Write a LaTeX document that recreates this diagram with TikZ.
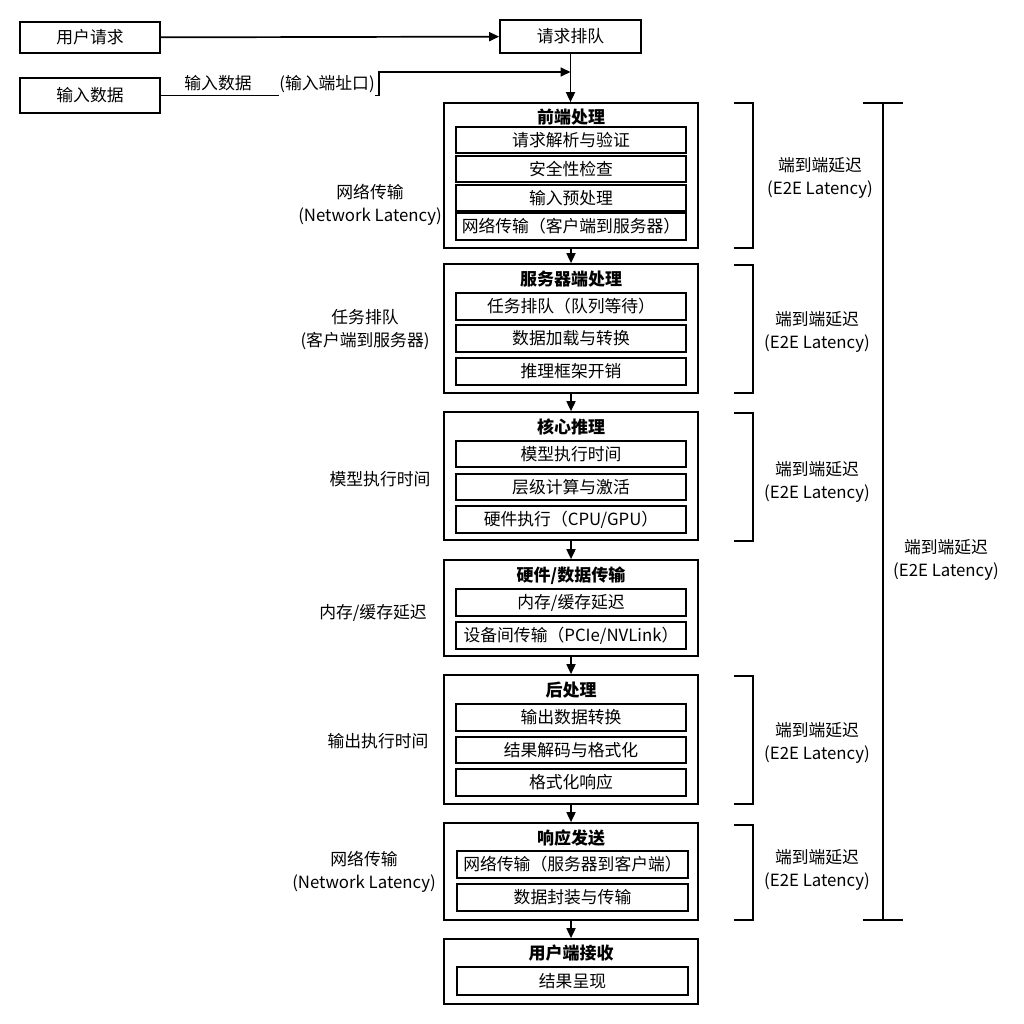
\documentclass[tikz,border=0pt]{standalone}
\usepackage{fontspec}
\setmainfont{Noto Sans CJK SC}
\usetikzlibrary{arrows.meta}
\begin{document}
\begin{tikzpicture}[x=1pt,y=-1pt,
  font=\fontsize{16.8}{23}\selectfont,
  lw/.style={line width=1.7pt},
  topbox/.style={draw,lw,inner sep=0pt,minimum width=140pt},
  outer/.style={draw,lw,inner sep=0pt,minimum width=254pt},
  sub/.style={draw,lw,inner sep=0pt,minimum width=230pt,minimum height=27pt},
  ttl/.style={font=\fontsize{17}{20}\selectfont\bfseries,inner sep=0pt},
  lbl/.style={align=center,inner sep=0pt},
  conn/.style={lw,-{Triangle[length=10pt,width=9pt]}},
  brk/.style={lw}]
\useasboundingbox (0,0) rectangle (1024,1024);

% top
\node[topbox,minimum height=31pt] (u) at (90,37.5) {用户请求};
\node[topbox,minimum width=141pt,minimum height=33pt] (q) at (570.5,36.5) {请求排队};
\node[topbox,minimum height=35pt] (in) at (90,95.5) {输入数据};
\node[lbl] (inl) at (218,83) {输入数据};
\node[lbl] (port) at (327,84) {(输入端址口)};
\coordinate (jn) at (570.5,72);
\draw[conn] (u) -- (q);
\draw[lw] (in.east) -- (in.east -| port.west);
\draw[conn] (in.east -| port.east) -- ++(4,0) |- (jn);

% box 1
\node[outer,minimum height=145pt] (b1) at (571,175.5) {};
\node[ttl] (t1) at (571,117) {前端处理};
\node[sub,minimum height=26pt] (s11) at (571,140) {请求解析与验证};
\node[sub,minimum height=26pt] (s12) at (571,169) {安全性检查};
\node[sub,minimum height=26pt] (s13) at (571,198) {输入预处理};
\node[sub] (s14) at (571,226.5) {网络传输（客户端到服务器）};

% box 2
\node[outer,minimum height=129pt] (b2) at (571,328.5) {};
\node[ttl] (t2) at (571,279) {服务器端处理};
\node[sub] (s21) at (571,306.5) {任务排队（队列等待）};
\node[sub] (s22) at (571,338.5) {数据加载与转换};
\node[sub] (s23) at (571,371.5) {推理框架开销};

% box 3
\node[outer,minimum height=128pt] (b3) at (571,476) {};
\node[ttl] (t3) at (571,427) {核心推理};
\node[sub,minimum height=26pt] (s31) at (571,454) {模型执行时间};
\node[sub,minimum height=26pt] (s32) at (571,487) {层级计算与激活};
\node[sub] (s33) at (571,519.5) {硬件执行（CPU/GPU）};

% box 4
\node[outer,minimum height=96pt] (b4) at (571,608) {};
\node[ttl] (t4) at (571,576) {硬件/数据传输};
\node[sub] (s41) at (571,602.5) {内存/缓存延迟};
\node[sub] (s42) at (571,635.5) {设备间传输（PCIe/NVLink）};

% box 5
\node[outer,minimum height=129pt] (b5) at (571,739.5) {};
\node[ttl] (t5) at (571,690) {后处理};
\node[sub] (s51) at (571,717.5) {输出数据转换};
\node[sub,minimum height=26pt] (s52) at (571,750) {结果解码与格式化};
\node[sub] (s53) at (571,782.5) {格式化响应};

% box 6
\node[outer,minimum height=97pt] (b6) at (571,871.5) {};
\node[ttl] (t6) at (571,838) {响应发送};
\node[sub,minimum width=231pt] (s61) at (572.5,864.5) {网络传输（服务器到客户端）};
\node[sub,minimum width=231pt] (s62) at (572.5,897.5) {数据封装与传输};

% box 7
\node[outer,minimum height=65pt] (b7) at (571,971.5) {};
\node[ttl] (t7) at (571,953) {用户端接收};
\node[sub,minimum width=231pt,minimum height=28pt] (s71) at (572.5,981) {结果呈现};

% vertical connectors
\draw[conn] (q.south) -- (q.south |- b1.north);
\draw[conn] (b1) -- (b2);
\draw[conn] (b2) -- (b3);
\draw[conn] (b3) -- (b4);
\draw[conn] (b4) -- (b5);
\draw[conn] (b5) -- (b6);
\draw[conn] (b6) -- (b7);

% left labels
\node[lbl] (l1) at (370,205) {网络传输\\(Network Latency)};
\node[lbl] (l2) at (365,330) {任务排队\\(客户端到服务器)};
\node[lbl] (l3) at (380,479) {模型执行时间};
\node[lbl] (l4) at (373,613) {内存/缓存延迟};
\node[lbl] (l5) at (378,741) {输出执行时间};
\node[lbl] (l6) at (364,872) {网络传输\\(Network Latency)};

% right brackets
\draw[brk] (734,103) -- (753,103) -- (753,248) -- (734,248);
\draw[brk] (734,265) -- (753,265) -- (753,393) -- (734,393);
\draw[brk] (734,413) -- (753,413) -- (753,541) -- (734,541);
\draw[brk] (734,676) -- (753,676) -- (753,804) -- (734,804);
\draw[brk] (734,825) -- (753,825) -- (753,920) -- (734,920);
\node[lbl] (r1) at (820,178) {端到端延迟\\(E2E Latency)};
\node[lbl] (r2) at (817,332) {端到端延迟\\(E2E Latency)};
\node[lbl] (r3) at (817,482) {端到端延迟\\(E2E Latency)};
\node[lbl] (r5) at (817,743) {端到端延迟\\(E2E Latency)};
\node[lbl] (r6) at (817,870) {端到端延迟\\(E2E Latency)};

% big bracket
\draw[brk] (863,103) -- (903,103);
\draw[brk] (883,103) -- (883,920);
\draw[brk] (863,920) -- (903,920);
\node[lbl] (rb) at (946,560) {端到端延迟\\(E2E Latency)};
\end{tikzpicture}
\end{document}
